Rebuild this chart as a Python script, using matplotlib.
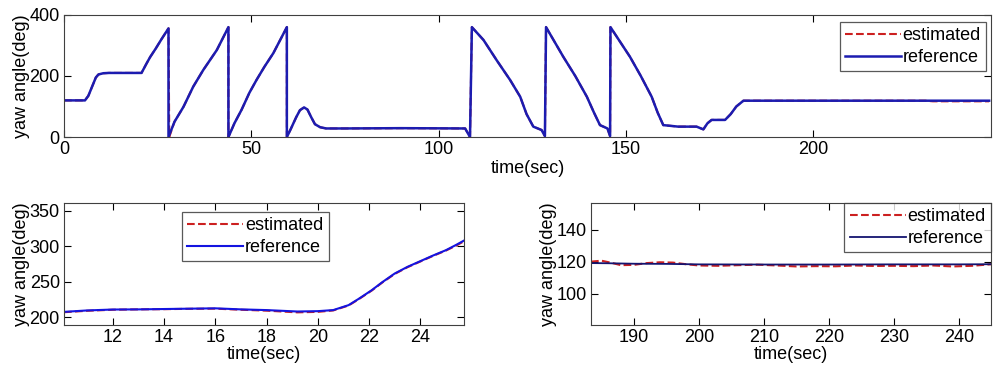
import matplotlib
matplotlib.use("Agg")
import matplotlib.pyplot as plt

plt.rcParams['font.family'] = ['Liberation Sans', 'DejaVu Sans']
plt.rcParams['font.size'] = 13

# ---- full run (top panel) ----
ref_t = [0, 5.6, 6.5, 7.5, 8.5, 9.2, 10.5, 12, 20.7, 22, 23, 24.5, 26, 27.9, 27.9,
         29.5, 31.9, 34.5, 37.2, 40.8, 43.9, 43.9, 45.5, 47.4, 49.5, 51.4, 53.5, 55.9, 59.5, 59.5,
         60.5, 62, 63, 64.1, 65, 66, 67, 68.4, 70, 75, 90, 107.1, 108.4, 108.9,
         112.0, 115.5, 119.1, 121.8, 123.5, 125.3, 127.5, 128.4, 128.7, 133.3, 136.5, 139.6,
         141.5, 143.1, 145.1, 145.8, 145.9, 151.1, 154, 156.9, 158.5, 160.0, 164, 168.9, 170.7,
         171.8, 172.9, 176.5, 178, 179.5, 181.4, 247]
ref_y = [120, 120, 135, 165, 195, 205, 209, 210, 210, 240, 262, 290, 320, 356, 0,
         50, 99, 165, 220, 285, 360, 0, 45, 89, 145, 187, 230, 275, 360, 0,
         25, 65, 88, 97, 90, 65, 42, 32, 28, 28, 29, 28, 0, 360,
         318, 252, 187, 132, 75, 34, 23, 3, 360, 263, 200, 132,
         80, 39, 28, 3, 360, 263, 200, 132, 80, 39, 34, 34, 25,
         45, 56, 56, 75, 100, 119, 119]
est_t = ref_t[:14] + [28.0, 28.1] + ref_t[15:-1] + [230, 232, 247]
est_y = ref_y[:14] + [190, 0] + ref_y[15:-1] + [119, 117, 117]

# ---- zoom 10-26 s ----
zl_t = [10.1, 11, 12, 13, 14, 15, 16, 17, 18, 19.2, 20, 20.6, 21.2, 21.6, 22.1, 22.5,
        23.0, 23.5, 24.0, 24.5, 25.0, 25.4, 25.7]
zl_ref = [207.5, 209.5, 210.8, 211, 211.5, 212, 212.5, 211, 210, 208, 208.5, 210, 217, 226,
          238, 249, 261.6, 271, 279, 287, 294.5, 302, 308]
zl_est = [207, 209, 210.5, 211, 211.3, 211.8, 212, 210.5, 209.2, 206.8, 207.5, 209.5, 216.5,
          225.5, 237.5, 248.5, 261, 270.5, 278.5, 286.5, 294, 301, 307]

# ---- zoom 183-245 s ----
zr_t = [183.4, 186, 190, 195, 200, 210, 220, 230, 240, 245]
zr_ref = [119.3, 119.2, 118.9, 118.8, 118.5, 118.4, 118.4, 118.5, 118.5, 118.6]
zr_est_t = [183.4, 185, 186.5, 188, 190, 192, 194, 196, 198, 200, 203, 206, 209, 212, 215,
            218, 221, 224, 227, 230, 233, 236, 239, 242, 245]
zr_est = [120.2, 120.8, 119.5, 118.0, 118.2, 119.3, 119.8, 119.6, 118.6, 117.8, 117.6, 118.0,
          118.3, 117.8, 117.2, 117.4, 117.3, 117.8, 117.5, 117.6, 117.4, 117.8, 117.2, 117.6, 118.6]

EST = '#cc2020'


def style(ax):
    ax.tick_params(direction='in', top=True, right=True, length=5, width=0.8, pad=3)
    for s in ax.spines.values():
        s.set_color('#404040')
        s.set_linewidth(0.8)


def leg(ax, **kw):
    lg = ax.legend(frameon=True, fancybox=False, handlelength=3.1, handletextpad=0.1,
                   borderpad=0.3, labelspacing=0.25, borderaxespad=0, **kw)
    lg.get_frame().set_edgecolor('#303030')
    lg.get_frame().set_linewidth(0.9)
    return lg


fig = plt.figure(figsize=(10, 3.71), dpi=100)

ax1 = fig.add_axes([0.064, 0.6307, 0.927, 0.329])
ax1.plot(est_t, est_y, '--', color=EST, lw=1.5, label='estimated')
ax1.plot(ref_t, ref_y, '-', color='#1c1cb0', lw=1.8, label='reference')
ax1.set_xlim(0, 247.5)
ax1.set_ylim(0, 400)
ax1.set_xticks([0, 50, 100, 150, 200])
ax1.set_yticks([0, 200, 400])
ax1.set_xlabel('time(sec)', labelpad=1)
ax1.set_ylabel('yaw angle(deg)', labelpad=0)
style(ax1)
leg(ax1, loc='upper right', bbox_to_anchor=(0.995, 0.943))

ax2 = fig.add_axes([0.064, 0.124, 0.400, 0.329])
ax2.plot(zl_t, zl_est, '--', color=EST, lw=1.5, label='estimated')
ax2.plot(zl_t, zl_ref, '-', color='#1414e0', lw=1.5, label='reference')
ax2.set_xlim(10.1, 25.7)
ax2.set_ylim(189, 361)
ax2.set_xticks([12, 14, 16, 18, 20, 22, 24])
ax2.set_yticks([200, 250, 300, 350])
ax2.set_xlabel('time(sec)', labelpad=0)
ax2.set_ylabel('yaw angle(deg)', labelpad=0)
style(ax2)
leg(ax2, loc='upper left', bbox_to_anchor=(0.295, 0.926))

ax3 = fig.add_axes([0.591, 0.124, 0.400, 0.329])
ax3.plot(zr_est_t, zr_est, '--', color=EST, lw=1.5, label='estimated')
ax3.plot(zr_t, zr_ref, '-', color='#141470', lw=1.3, label='reference')
ax3.set_xlim(183.4, 244.9)
ax3.set_ylim(80.6, 156.9)
ax3.set_xticks([190, 200, 210, 220, 230, 240])
ax3.set_yticks([100, 120, 140])
ax3.set_xlabel('time(sec)', labelpad=0)
ax3.set_ylabel('yaw angle(deg)', labelpad=0)
style(ax3)
leg(ax3, loc='upper right', bbox_to_anchor=(1.0, 1.0))

fig.savefig('out.png', dpi=100)
